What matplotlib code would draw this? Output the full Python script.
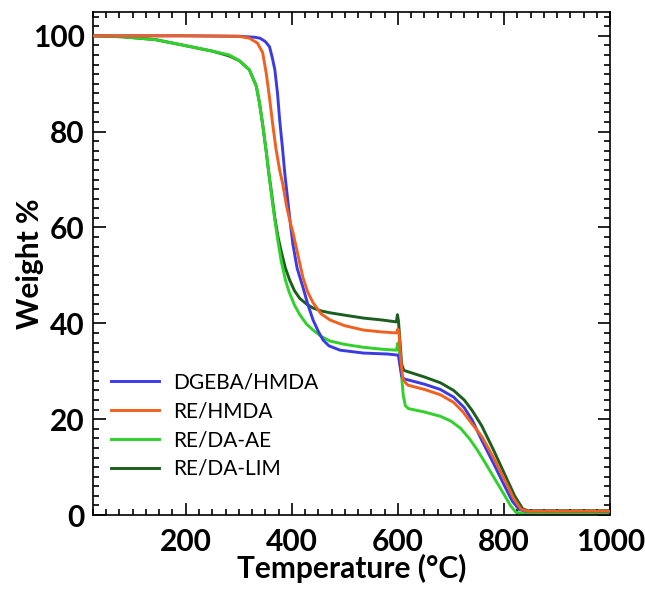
import matplotlib
matplotlib.use("Agg")
import matplotlib.pyplot as plt
from matplotlib.ticker import MultipleLocator

# TGA curves (temperature in degC, weight %)
t_dgeba = [25, 200, 300, 330, 340, 350, 358, 363, 368, 373, 377, 382, 387, 392, 396,
           402, 410, 421, 430, 440, 450, 459, 470, 491, 535, 580, 598, 601, 604, 607,
           611, 619, 650, 680, 705, 725, 740, 758, 780, 800, 815, 828, 840, 1000]
w_dgeba = [100, 100, 99.9, 99.7, 99.5, 98.8, 97.7, 95.5, 92.9, 88, 82.5, 77, 71, 66, 62,
           56.5, 51.5, 47.5, 44, 40.7, 38.3, 36.5, 35.3, 34.4, 33.8, 33.6, 33.4, 33.2, 31, 29,
           28.4, 28.2, 27.3, 26.2, 24.6, 22.4, 19.8, 15.6, 10.8, 6.3, 3, 1.2, 0.8, 0.7]

t_rehmda = [25, 200, 300, 320, 335, 345, 352, 358, 364, 370, 377, 383, 390, 396, 402,
            410, 421, 430, 440, 455, 472, 500, 535, 570, 597, 600, 602, 605, 609, 615,
            619, 650, 680, 705, 722, 735, 758, 780, 800, 818, 832, 845, 1000]
w_rehmda = [100, 100, 99.9, 99.5, 98.5, 96.5, 92, 87, 81.5, 76.5, 72, 69, 64.5, 61.5, 59,
            55, 49.5, 46.5, 44.3, 42, 40.7, 39.5, 38.6, 38.2, 38.0, 38.8, 38.0, 33, 28.5, 27.5,
            27.1, 26.2, 25.1, 23.5, 21.6, 19.7, 16.4, 12, 7.6, 3.5, 1.2, 0.8, 0.8]

t_daae = [25, 80, 143, 206, 250, 282, 301, 320, 333, 339, 345, 352, 357, 362, 368,
          374, 380, 388, 395, 405, 415, 428, 440, 455, 472, 500, 535, 570, 597, 600, 602,
          606, 610, 614, 620, 650, 680, 700, 718, 735, 750, 765, 780, 800, 812, 822, 835, 1000]
w_daae = [100, 99.8, 99.2, 97.8, 96.8, 96, 94.8, 92.9, 89.5, 86, 81.5, 75.6, 71, 66.5, 61.5,
          57, 53, 49, 46.5, 43.8, 41.8, 39.8, 38.6, 37.3, 36.3, 35.6, 35, 34.6, 34.4, 35.9, 34.5,
          30, 25, 22.8, 22.2, 21.5, 20.6, 19.6, 18.1, 15.9, 13.5, 10.8, 8, 4.3, 2, 0.6, 0.3, 0.3]

t_dalim = [25, 80, 143, 206, 250, 282, 301, 320, 333, 339, 345, 352, 357, 362, 368,
           374, 380, 388, 396, 405, 415, 428, 440, 455, 472, 500, 535, 570, 597, 599, 601,
           604, 607, 611, 619, 650, 680, 705, 725, 740, 758, 780, 800, 820, 835, 845, 1000]
w_dalim = [100, 99.8, 99.2, 97.8, 96.8, 95.8, 94.8, 92.9, 89.5, 86, 81.5, 75.6, 71, 67, 62,
           58, 55, 51.5, 49, 46.8, 45.2, 44, 43.2, 42.6, 42.2, 41.7, 41.1, 40.7, 40.3, 41.8, 40.5,
           36, 31.5, 30.2, 29.9, 28.8, 27.6, 26, 24, 21.8, 18.6, 13.6, 8.8, 4, 1.3, 0.9, 0.9]

labels = ["DGEBA/HMDA", "RE/HMDA", "RE/DA-AE", "RE/DA-LIM"]
colors = ["#3b3be6", "#f2601f", "#2fd12a", "#1b5e1f"]

plt.rcParams["font.family"] = ["Lato", "DejaVu Sans"]

fig = plt.figure(figsize=(6.45, 5.92), dpi=100)
ax = fig.add_axes([0.144, 0.130, 0.802, 0.850])

series = [(t_dgeba, w_dgeba), (t_rehmda, w_rehmda), (t_daae, w_daae), (t_dalim, w_dalim)]
zorders = [3, 4, 2, 1]
for (t, w), lab, col, z in zip(series, labels, colors, zorders):
    ax.plot(t, w, color=col, lw=2.1, label=lab, zorder=z, solid_joinstyle="round")

ax.set_xlim(25, 1000)
ax.set_ylim(0, 105)
ax.xaxis.set_major_locator(MultipleLocator(200))
ax.xaxis.set_minor_locator(MultipleLocator(25))
ax.yaxis.set_major_locator(MultipleLocator(20))
ax.yaxis.set_minor_locator(MultipleLocator(2))
ax.tick_params(which="both", direction="in", top=True, right=True, width=1.2)
ax.tick_params(which="major", length=9, labelsize=21.5)
ax.tick_params(which="minor", length=4.5)
ax.tick_params(axis="x", pad=9)
ax.tick_params(axis="y", pad=6)
for lab in ax.get_xticklabels() + ax.get_yticklabels():
    lab.set_fontweight("bold")
for s in ax.spines.values():
    s.set_linewidth(1.2)

ax.set_xlabel("Temperature (°C)", fontsize=21.5, fontweight="bold", labelpad=-1)
ax.set_ylabel("Weight %", fontsize=21.5, fontweight="bold")
ax.yaxis.set_label_coords(-0.095, 0.5)

ax.legend(loc="upper left", bbox_to_anchor=(0.035, 0.283), frameon=False,
          fontsize=15, handlelength=2.3, handletextpad=0.7, labelspacing=0.42,
          borderpad=0, borderaxespad=0)

fig.savefig("out.png", dpi=100)
